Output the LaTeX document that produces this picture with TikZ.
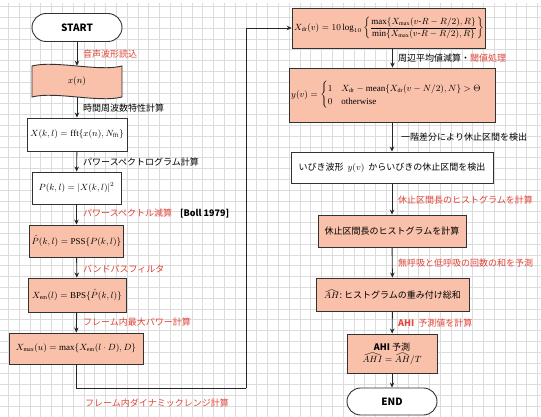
\documentclass[tikz,border=0pt]{standalone}
\usepackage{amsmath}
\usepackage{graphicx}
\usepackage{fontspec}
\setmainfont{Liberation Serif}
\newfontfamily\jp{Noto Sans CJK JP}
\usetikzlibrary{arrows.meta}
\definecolor{salmon}{RGB}{249,192,170}
\definecolor{lbred}{RGB}{226,68,56}
\definecolor{gridc}{RGB}{220,220,220}
\definecolor{edgec}{RGB}{50,50,50}
\newsavebox\myhatbox
\newcommand{\whatx}[1]{\sbox\myhatbox{$#1$}\mathord{\vbox{\offinterlineskip
  \hbox to\wd\myhatbox{\resizebox{\wd\myhatbox}{2.6pt}{$\wedge$}}\kern0.7pt\copy\myhatbox}}}
\begin{document}
\begin{tikzpicture}[x=1pt,y=-1pt,
  box/.style={draw=edgec,line width=0.9pt,inner sep=2pt,align=center,
    font=\jp\fontsize{9}{11}\selectfont},
  wbox/.style={box,fill=white},
  sbox/.style={box,fill=salmon},
  pill/.style={box,fill=white,font=\jp\bfseries\fontsize{10}{12}\selectfont},
  lbl/.style={anchor=west,inner sep=0pt,font=\jp\fontsize{9}{11}\selectfont},
  rlbl/.style={lbl,text=lbred},
  arr/.style={draw=black!85,line width=0.9pt,-{Stealth[length=5pt,width=4.5pt]}},
  conn/.style={draw=black!85,line width=0.9pt}]
% background and grid
\fill[white] (0,0) rectangle (541,417);
\useasboundingbox (0,0) rectangle (541,417);
\foreach \k in {0,...,49} \draw[gridc,line width=0.5pt] ({8.2+10.8*\k},3) -- ({8.2+10.8*\k},417);
\foreach \k in {0,...,38} \draw[gridc,line width=0.5pt] (0,{6.4+10.8*\k}) -- (541,{6.4+10.8*\k});

% left column
\node[pill,minimum width=90pt,minimum height=28pt,rounded corners=14pt] (start) at (77,27.5) {START};
\node[minimum width=90pt,minimum height=31pt,inner sep=0pt,font=\fontsize{9}{11}\selectfont] (xn) at (77,81.5) {};
\fill[salmon] (32,66) .. controls (55,60) and (99,72) .. (122,66) -- (122,97)
  .. controls (99,103) and (55,91) .. (32,97) -- cycle;
\draw[edgec,line width=0.9pt] (32,66) .. controls (55,60) and (99,72) .. (122,66) -- (122,97)
  .. controls (99,103) and (55,91) .. (32,97) -- cycle;
\node[font=\fontsize{9}{11}\selectfont] at (xn.center) {$x(n)$};
\node[wbox,minimum width=100pt,minimum height=33pt] (X) at (77,134.5) {$X(k,l) = \mathrm{fft}\{x(n), N_{\mathrm{fft}}\}$};
\node[wbox,minimum width=89pt,minimum height=32pt] (P) at (76.5,188) {$P(k,l) = |X(k,l)|^2$};
\node[sbox,minimum width=93pt,minimum height=32pt] (Ph) at (76.5,241) {$\hat{P}(k,l) = \mathrm{PSS}\{P(k,l)\}$};
\node[sbox,minimum width=98pt,minimum height=34pt] (Xem) at (77,295) {$X_{\mathrm{em}}(l) = \mathrm{BPS}\{\hat{P}(k,l)\}$};
\node[sbox,minimum width=134pt,minimum height=31pt] (Xmax) at (76,348.5) {$X_{\max}(u) = \max\{X_{\mathrm{em}}(l\cdot D), D\}$};

\draw[arr] (start) -- (xn);
\draw[arr] (xn) -- (X);
\draw[arr] (X) -- (P);
\draw[arr] (P) -- (Ph);
\draw[arr] (Ph) -- (Xem);
\draw[arr] (Xem) -- (Xmax);

\node[rlbl] (l1) at (83,54) {音声波形読込};
\node[lbl] (l2) at (83,108) {時間周波数特性計算};
\node[lbl] (l3) at (83,162) {パワースペクトログラム計算};
\node[rlbl] (l4) at (83,213) {パワースペクトル減算\hspace{8pt}\textcolor{black}{\bfseries[Boll 1979]}};
\node[rlbl] (l5) at (83,269) {バンドパスフィルタ};
\node[rlbl] (l6) at (83,322) {フレーム内最大パワー計算};
\node[rlbl] (l7) at (85,403) {フレーム内ダイナミックレンジ計算};

% right column
\node[sbox,minimum width=188pt,minimum height=40pt] (Xdr) at (389,28)
  {$X_{\mathrm{dr}}(v) = 10\log_{10}\left\{\dfrac{\max\{X_{\max}(v\text{-}R-R/2),R\}}{\min\{X_{\max}(v\text{-}R-R/2),R\}}\right\}$};
\node[sbox,minimum width=195pt,minimum height=54pt,align=left] (yv) at (392.5,95)
  {$y(v) = \begin{cases} 1 & X_{\mathrm{dr}} - \mathrm{mean}\{X_{\mathrm{dr}}(v-N/2),N\} > \Theta \\ 0 & \mathrm{otherwise}\end{cases}$\hspace{12pt}};
\node[wbox,minimum width=202pt,minimum height=31pt] (det) at (392,167.5) {いびき波形\ \ $y(v)$\ \ からいびきの休止区間を検出};
\node[sbox,minimum width=148pt,minimum height=32pt] (hist) at (392,231) {休止区間長のヒストグラムを計算};
\node[sbox,minimum width=153pt,minimum height=33pt] (ah) at (392.5,294.5) {$\whatx{AH}$:\ ヒストグラムの重み付け総和};
\node[sbox,minimum width=90pt,minimum height=39pt] (ahi) at (392,353.5) {{\bfseries AHI} 予測\\[1pt] $\whatx{AHI} = \whatx{AH}/T$};
\node[pill,minimum width=90pt,minimum height=27pt,rounded corners=13.5pt] (end) at (392,401.5) {END};

\coordinate (c1) at (246,388);
\draw[conn] (Xmax.south) |- (c1);
\draw[arr] (c1) |- (Xdr.west);
\draw[arr] (Xdr.south -| yv.north) -- (yv.north);
\draw[arr] (yv.south -| det.north) -- (det.north);
\draw[arr] (det) -- (hist);
\draw[arr] (hist) -- (ah);
\draw[arr] (ah) -- (ahi);
\draw[arr] (ahi) -- (end);

\node[lbl] (r1) at (398,58) {周辺平均値減算・\textcolor{lbred}{閾値処理}};
\node[lbl] (r2) at (401,137) {一階差分により休止区間を検出};
\node[rlbl] (r3) at (398,200) {休止区間長のヒストグラムを計算};
\node[rlbl] (r4) at (398,263) {無呼吸と低呼吸の回数の和を予測};
\node[rlbl] (r5) at (398,323) {{\bfseries AHI}\ \ 予測値を計算};
\end{tikzpicture}
\end{document}
